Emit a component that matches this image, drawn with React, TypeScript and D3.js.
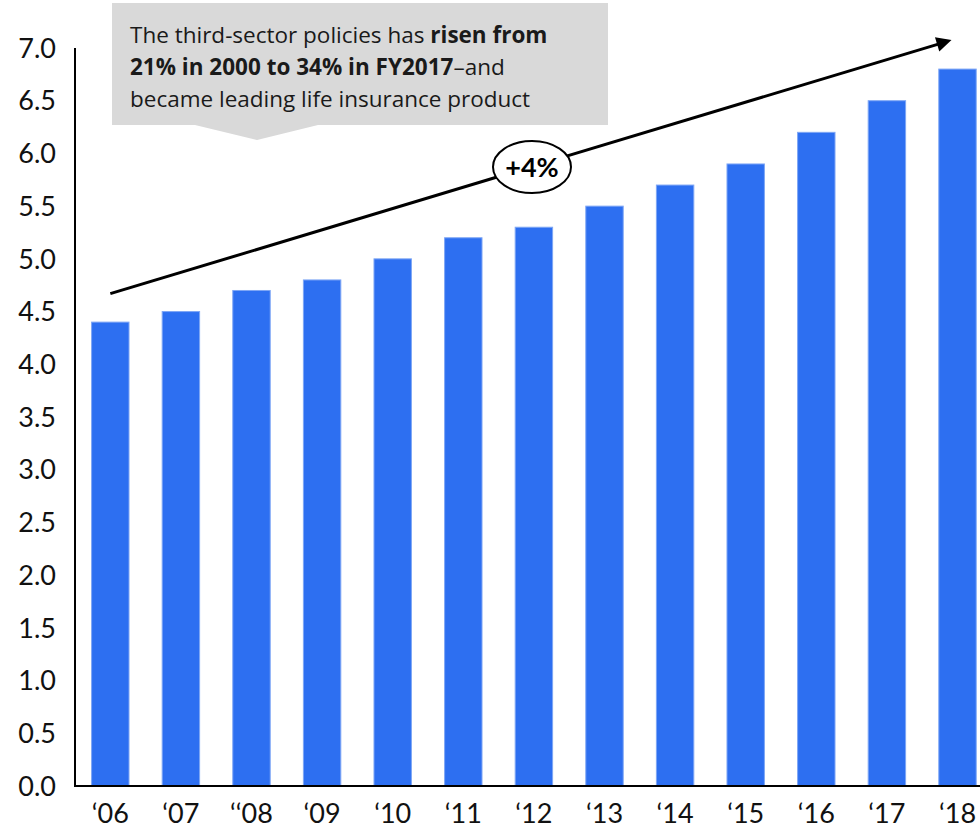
import { useRef, useEffect } from "react"
import * as d3 from "d3"

const years = ["‘06", "‘07", "‘‘08", "‘09", "‘10", "‘11", "‘12", "‘13", "‘14", "‘15", "‘16", "‘17", "‘18"]
const values = [4.4, 4.5, 4.7, 4.8, 5.0, 5.2, 5.3, 5.5, 5.7, 5.9, 6.2, 6.5, 6.8]
const yTicks = [0, 0.5, 1, 1.5, 2, 2.5, 3, 3.5, 4, 4.5, 5, 5.5, 6, 6.5, 7]
const trendLabel = "+4%"
// trend arrow in data terms (start at first bar, end near last)
const trendStart = 4.67
const trendEnd = 7.08

const FONT = "Lato, 'Open Sans', sans-serif"
const NOTE_FONT = "'Open Sans', Lato, sans-serif"

export default function App() {
    const svgRef = useRef(null)
    useEffect(() => {
        const width = 980
        const height = 830
        const svg = d3.select(svgRef.current)
        svg.selectAll("*").remove()
        svg.attr("width", width).attr("height", height)

        const x0 = 75
        const step = 70.6
        const xScale = d3.scaleBand()
            .domain(years)
            .range([x0, x0 + step * years.length])
            .paddingInner(0.47)
            .paddingOuter(0.235)
        const yScale = d3.scaleLinear().domain([0, 7]).range([786, 48])

        const defs = svg.append("defs")
        defs.append("marker")
            .attr("id", "head")
            .attr("viewBox", "0 0 10 10")
            .attr("refX", 2).attr("refY", 5)
            .attr("markerWidth", 6).attr("markerHeight", 5)
            .attr("markerUnits", "strokeWidth")
            .attr("orient", "auto")
            .append("path").attr("d", "M0,0 L10,5 L0,10 Z").attr("fill", "#000")

        // bars
        svg.append("g").selectAll("rect")
            .data(values)
            .enter()
            .append("rect")
            .attr("x", (d, i) => xScale(years[i]))
            .attr("width", xScale.bandwidth())
            .attr("y", d => yScale(d))
            .attr("height", d => yScale(0) - yScale(d))
            .style("fill", "#2d6ff1")
            .style("stroke", "#7ea6f5")
            .style("stroke-width", 1)

        // axes
        svg.append("line")
            .attr("x1", x0).attr("x2", x0)
            .attr("y1", yScale(7)).attr("y2", yScale(0))
            .attr("stroke", "#000").attr("stroke-width", 2)
        svg.append("line")
            .attr("x1", x0 - 1).attr("x2", width)
            .attr("y1", yScale(0)).attr("y2", yScale(0))
            .attr("stroke", "#000").attr("stroke-width", 2)

        svg.append("g").selectAll("text")
            .data(yTicks)
            .enter()
            .append("text")
            .attr("x", 56)
            .attr("y", d => yScale(d))
            .attr("dy", "0.36em")
            .attr("text-anchor", "end")
            .style("font-family", FONT)
            .style("font-size", "27px")
            .style("fill", "#111")
            .text(d => d.toFixed(1))

        svg.append("g").selectAll("text")
            .data(years)
            .enter()
            .append("text")
            .attr("x", d => xScale(d) + xScale.bandwidth() / 2)
            .attr("y", 823)
            .attr("text-anchor", "middle")
            .style("font-family", FONT)
            .style("font-size", "27px")
            .style("fill", "#111")
            .text(d => d)

        // trend arrow
        const sx = xScale(years[0]) + xScale.bandwidth() / 2
        const ex = 940
        svg.append("line")
            .attr("x1", sx).attr("y1", yScale(trendStart))
            .attr("x2", ex).attr("y2", yScale(trendEnd) + 4)
            .attr("stroke", "#000").attr("stroke-width", 3)
            .attr("marker-end", "url(#head)")

        svg.append("ellipse")
            .attr("cx", 532).attr("cy", 167)
            .attr("rx", 39).attr("ry", 26)
            .attr("fill", "#fff").attr("stroke", "#000").attr("stroke-width", 2)
        svg.append("text")
            .attr("x", 532).attr("y", 167)
            .attr("dy", "0.36em")
            .attr("text-anchor", "middle")
            .style("font-family", FONT)
            .style("font-size", "27px")
            .style("font-weight", "bold")
            .text(trendLabel)

        // callout
        svg.append("path")
            .attr("d", "M112,3 L608,3 L608,125 L318,125 L257,140 L195,125 L112,125 Z")
            .attr("fill", "#d9d9d9")
        const lines = [
            [["The third-sector policies has ", "normal"], ["risen from", "bold"]],
            [["21% in 2000 to 34% in FY2017", "bold"], ["–and", "normal"]],
            [["became leading life insurance product", "normal"]],
        ]
        const callout = svg.append("g")
        lines.forEach((parts, i) => {
            const t = callout.append("text")
                .attr("x", 130)
                .attr("y", 43 + i * 32)
                .style("font-family", NOTE_FONT)
                .style("font-size", "22.5px")
                .style("fill", "#1a1a1a")
            parts.forEach(p => {
                t.append("tspan").style("font-weight", p[1]).text(p[0])
            })
        })
    }, [])
    return (
        <div style={{ position: "absolute", left: 0, top: 0 }}>
            <svg ref={svgRef}></svg>
        </div>
    )
}
